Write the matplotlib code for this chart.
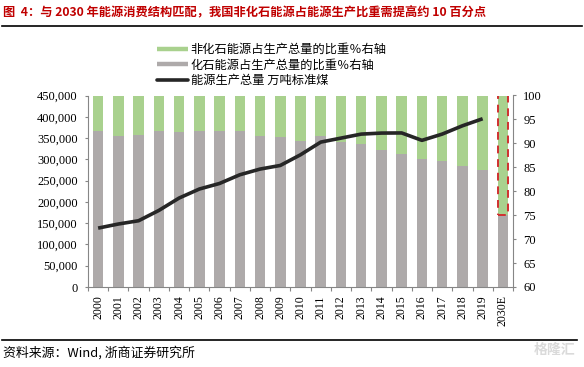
import matplotlib.pyplot as plt
from matplotlib.lines import Line2D
import numpy as np

plt.rcParams['font.family'] = ['Noto Sans CJK SC', 'DejaVu Sans']

years = ['2000', '2001', '2002', '2003', '2004', '2005', '2006', '2007', '2008', '2009',
         '2010', '2011', '2012', '2013', '2014', '2015', '2016', '2017', '2018', '2019', '2030E']
# fossil share of production, % (right axis); non-fossil is the rest up to 100
fossil_share = [92.6, 91.6, 91.8, 92.5, 92.3, 92.5, 92.5, 92.5, 91.6, 91.4,
                90.6, 91.6, 90.3, 89.8, 88.7, 87.8, 86.8, 86.3, 85.3, 84.5, 75.0]
# total energy production, 10k tce (left axis), no value for 2030E
production = [138400, 148000, 155700, 179900, 209000, 230200, 243300, 263700, 277100, 285600,
              310700, 340500, 349900, 359300, 361700, 362000, 344600, 359300, 378800, 395400]

GREEN = '#A9D18E'
GRAY = '#AEAAAA'
LINE = '#262626'
RED = '#C00000'
SPINE = '#868686'

fig = plt.figure(figsize=(5.84, 3.67), dpi=100)
ax = fig.add_axes([88 / 584, 1 - 287 / 367, (513 - 88) / 584, (287 - 95.5) / 367])
ax2 = ax.twinx()

x = np.arange(len(years))
non_fossil = [100 - v for v in fossil_share]
w = 0.52
ax2.bar(x, fossil_share, width=w, color=GRAY, zorder=2)
ax2.bar(x[:-1], non_fossil[:-1], bottom=fossil_share[:-1], width=w, color=GREEN, zorder=2)
ax2.bar(x[-1:], non_fossil[-1:], bottom=fossil_share[-1:], width=w, color=GREEN,
        edgecolor='#D03030', linestyle=(0, (4, 3)), linewidth=1.4, zorder=3)
ax2.set_ylim(60, 100)
ax2.set_yticks(np.arange(60, 101, 5))

ax.plot(x[:len(production)], production, color=LINE, lw=2.6, solid_capstyle='butt', zorder=5)
ax.set_ylim(0, 450000)
ax.set_yticks(np.arange(0, 450001, 50000))
ax.set_yticklabels([f'{v:,}' for v in range(0, 450001, 50000)])
ax.set_xlim(-0.5, len(years) - 0.5)
ax.set_xticks(x)
ax.set_xticklabels(years, rotation=90)
ax.set_xticks(np.arange(-0.5, len(years), 1), minor=True)

ax.set_zorder(ax2.get_zorder() + 1)
ax.patch.set_visible(False)

for a in (ax, ax2):
    a.spines['top'].set_visible(False)
    for s in ('left', 'right', 'bottom'):
        a.spines[s].set_color(SPINE)
        a.spines[s].set_linewidth(0.8)
ax.spines['right'].set_visible(False)
ax2.spines['left'].set_visible(False)
ax2.spines['bottom'].set_visible(False)

ax.tick_params(axis='x', which='major', length=0, pad=6)
ax.tick_params(axis='x', which='minor', length=3, color=SPINE, width=0.8)
ax.tick_params(axis='y', length=2.5, color=SPINE, width=0.8, pad=5)
ax2.tick_params(axis='y', length=2.5, color=SPINE, width=0.8, pad=5)
for lab in ax.get_xticklabels():
    lab.set_fontfamily('Liberation Serif')
    lab.set_fontsize(8.5)
for lab in ax.get_yticklabels() + ax2.get_yticklabels():
    lab.set_fontfamily('Liberation Serif')
    lab.set_fontsize(9)

handles = [Line2D([], [], color=GREEN, lw=3.2, solid_capstyle='butt'),
           Line2D([], [], color=GRAY, lw=3.2, solid_capstyle='butt'),
           Line2D([], [], color=LINE, lw=2.6, solid_capstyle='round')]
labels = ['非化石能源占生产总量的比重％右轴', '化石能源占生产总量的比重％右轴', '能源生产总量 万吨标准煤']
fig.legend(handles, labels, loc='upper left', bbox_to_anchor=(157 / 584, 1 - 43 / 367),
           frameon=False, fontsize=8.8, handlelength=2.5, handletextpad=0.25,
           labelspacing=0.22, borderpad=0, borderaxespad=0)

fig.text(3 / 584, 1 - 13 / 367, '图  4：与 2030 年能源消费结构匹配，我国非化石能源占能源生产比重需提高约 10 百分点',
         color=RED, fontsize=8.8, fontweight='bold', va='center', ha='left')
fig.add_artist(Line2D([2 / 584, 582 / 584], [1 - 26 / 367] * 2, color='black', lw=1.2))
fig.add_artist(Line2D([2 / 584, 577 / 584], [1 - 340 / 367] * 2, color='black', lw=1.2))
fig.text(3 / 584, 1 - 353 / 367, '资料来源：Wind, 浙商证券研究所', fontsize=9.3, va='center', ha='left')
fig.text(575 / 584, 1 - 350 / 367, '格隆汇', fontsize=10, color='#DADADA', fontweight='bold',
         va='center', ha='right')

fig.savefig('out.png', dpi=100)
